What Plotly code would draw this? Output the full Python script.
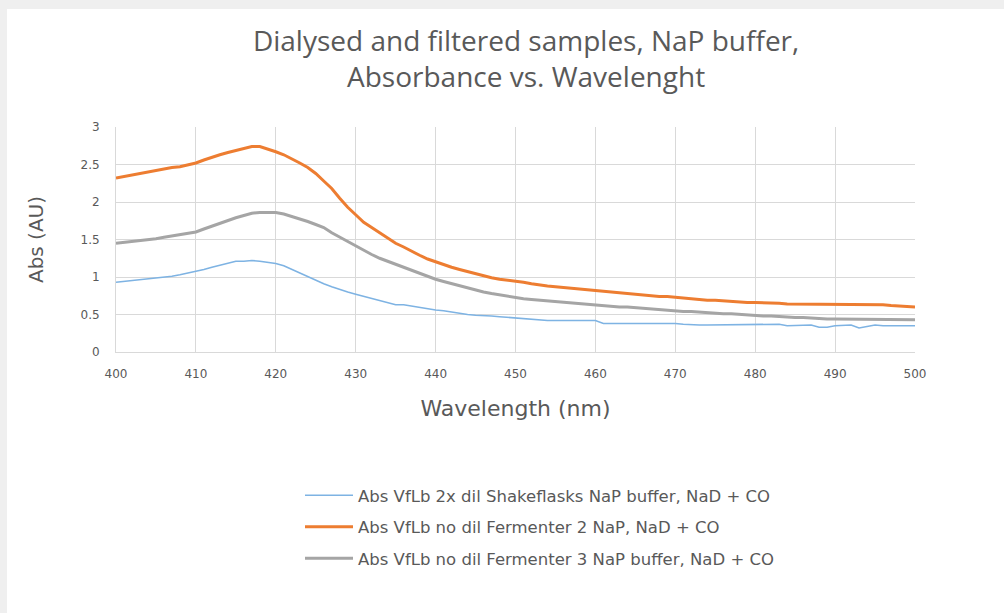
import plotly.graph_objects as go

# Wavelength grid (nm)
wavelength = list(range(400, 501))

# Abs VfLb 2x dil Shakeflasks NaP buffer, NaD + CO
abs_shakeflasks = [
    0.93, 0.94, 0.95, 0.97, 0.98, 0.99, 1.00, 1.01, 1.03, 1.05,
    1.07, 1.10, 1.13, 1.16, 1.19, 1.21, 1.21, 1.22, 1.21, 1.20,
    1.18, 1.15, 1.10, 1.05, 1.01, 0.96, 0.91, 0.87, 0.83, 0.80,
    0.77, 0.74, 0.71, 0.69, 0.66, 0.63, 0.63, 0.61, 0.59, 0.57,
    0.56, 0.55, 0.53, 0.52, 0.50, 0.49, 0.49, 0.48, 0.47, 0.46,
    0.45, 0.44, 0.43, 0.43, 0.42, 0.42, 0.42, 0.42, 0.42, 0.42,
    0.42, 0.38, 0.38, 0.38, 0.38, 0.39, 0.38, 0.38, 0.38, 0.38,
    0.38, 0.37, 0.36, 0.36, 0.36, 0.36, 0.36, 0.36, 0.36, 0.36,
    0.36, 0.36, 0.36, 0.37, 0.35, 0.35, 0.35, 0.36, 0.33, 0.33,
    0.35, 0.35, 0.36, 0.32, 0.34, 0.36, 0.35, 0.35, 0.35, 0.35,
    0.35,
]

# Abs VfLb no dil Fermenter 2 NaP, NaD + CO
abs_fermenter2 = [
    2.32, 2.34, 2.36, 2.38, 2.41, 2.42, 2.44, 2.46, 2.47, 2.49,
    2.52, 2.56, 2.60, 2.63, 2.66, 2.69, 2.72, 2.74, 2.74, 2.71,
    2.67, 2.63, 2.58, 2.52, 2.46, 2.38, 2.28, 2.18, 2.05, 1.93,
    1.83, 1.73, 1.66, 1.59, 1.52, 1.45, 1.40, 1.34, 1.29, 1.24,
    1.20, 1.17, 1.13, 1.10, 1.07, 1.04, 1.01, 0.99, 0.97, 0.96,
    0.95, 0.93, 0.91, 0.89, 0.88, 0.87, 0.86, 0.84, 0.83, 0.82,
    0.81, 0.80, 0.79, 0.78, 0.77, 0.76, 0.76, 0.75, 0.74, 0.74,
    0.73, 0.71, 0.70, 0.70, 0.69, 0.69, 0.68, 0.67, 0.67, 0.66,
    0.66, 0.66, 0.65, 0.65, 0.64, 0.64, 0.63, 0.63, 0.63, 0.63,
    0.63, 0.63, 0.63, 0.63, 0.63, 0.63, 0.63, 0.62, 0.61, 0.60,
    0.60,
]

# Abs VfLb no dil Fermenter 3 NaP buffer, NaD + CO
abs_fermenter3 = [
    1.45, 1.46, 1.47, 1.48, 1.49, 1.51, 1.53, 1.55, 1.56, 1.58,
    1.60, 1.64, 1.68, 1.72, 1.76, 1.79, 1.82, 1.85, 1.86, 1.86,
    1.86, 1.84, 1.81, 1.78, 1.74, 1.70, 1.66, 1.59, 1.53, 1.47,
    1.41, 1.36, 1.30, 1.25, 1.21, 1.16, 1.13, 1.09, 1.05, 1.01,
    0.97, 0.94, 0.91, 0.88, 0.85, 0.82, 0.80, 0.78, 0.76, 0.74,
    0.72, 0.71, 0.70, 0.69, 0.69, 0.68, 0.67, 0.66, 0.65, 0.64,
    0.63, 0.62, 0.61, 0.60, 0.60, 0.59, 0.58, 0.57, 0.56, 0.56,
    0.55, 0.54, 0.54, 0.53, 0.53, 0.52, 0.51, 0.51, 0.50, 0.50,
    0.49, 0.48, 0.48, 0.47, 0.47, 0.46, 0.46, 0.45, 0.45, 0.44,
    0.44, 0.44, 0.44, 0.44, 0.43, 0.43, 0.43, 0.43, 0.43, 0.43,
    0.43,
]

series_names = [
    "Abs VfLb 2x dil Shakeflasks NaP buffer, NaD + CO",
    "Abs VfLb no dil Fermenter 2 NaP, NaD + CO",
    "Abs VfLb no dil Fermenter 3 NaP buffer, NaD + CO",
]
series_values = [abs_shakeflasks, abs_fermenter2, abs_fermenter3]
series_colors = ["#7EB3E3", "#ED7D31", "#A5A5A5"]
series_widths = [1.6, 3, 3]

x_ticks = list(range(400, 501, 10))
y_ticks = [0, 0.5, 1, 1.5, 2, 2.5, 3]
y_tick_text = ["0", "0.5", "1", "1.5", "2", "2.5", "3"]

W, H = 1004, 613
ML, MR, MT, MB = 116, 89, 127, 261

fig = go.Figure()
for i, (name, vals, col, lw) in enumerate(zip(series_names, series_values, series_colors, series_widths)):
    fig.add_trace(go.Scatter(
        x=wavelength, y=vals, mode="lines", name=name,
        legendgroup=f"g{i}",
        line=dict(color=col, width=lw),
    ))

# light grey frame along the top and left edges of the page
pw = W - ML - MR
ph = H - MT - MB
def px_x(p):
    return (p - ML) / pw
def px_y(p):
    return 1 - (p - MT) / ph

shapes = [
    dict(type="rect", xref="paper", yref="paper",
         x0=px_x(0), x1=px_x(W), y0=px_y(9), y1=px_y(0),
         fillcolor="#EFEFEF", line=dict(width=0), layer="below"),
    dict(type="rect", xref="paper", yref="paper",
         x0=px_x(0), x1=px_x(7), y0=px_y(H), y1=px_y(0),
         fillcolor="#EFEFEF", line=dict(width=0), layer="below"),
]

fig.update_layout(
    width=W, height=H,
    margin=dict(l=ML, r=MR, t=MT, b=MB),
    paper_bgcolor="white", plot_bgcolor="white",
    shapes=shapes,
    title=dict(
        text="Dialysed and filtered samples, NaP buffer,<br>Absorbance vs. Wavelenght",
        x=0.524, xanchor="center", y=1 - 51 / H, yanchor="middle",
        font=dict(family="Open Sans, sans-serif", size=28, color="#595959"),
    ),
    xaxis=dict(
        range=[400, 500], tickvals=x_ticks,
        ticks="outside", ticklen=11, tickcolor="rgba(0,0,0,0)",
        showgrid=True, gridcolor="#D9D9D9", gridwidth=1,
        showline=True, linecolor="#D9D9D9", linewidth=1,
        zeroline=False, mirror=False,
        tickfont=dict(family="DejaVu Sans, sans-serif", size=12, color="#595959"),
        title=dict(text="Wavelength (nm)", standoff=20,
                   font=dict(family="DejaVu Sans, sans-serif", size=22, color="#595959")),
    ),
    yaxis=dict(
        range=[0, 3], tickvals=y_ticks, ticktext=y_tick_text,
        ticks="outside", ticklen=13, tickcolor="rgba(0,0,0,0)",
        showgrid=True, gridcolor="#D9D9D9", gridwidth=1,
        showline=True, linecolor="#D9D9D9", linewidth=1,
        zeroline=False,
        tickfont=dict(family="DejaVu Sans, sans-serif", size=12, color="#595959"),
        title=dict(text="Abs (AU)", standoff=31,
                   font=dict(family="DejaVu Sans, sans-serif", size=20, color="#595959")),
    ),
    legend=dict(
        orientation="v", x=px_x(300), xanchor="left",
        y=px_y(478), yanchor="top",
        font=dict(family="DejaVu Sans, sans-serif", size=16.5, color="#595959"),
        tracegroupgap=7, itemwidth=48,
        bgcolor="rgba(0,0,0,0)",
    ),
    showlegend=True,
)

fig.write_html("out.html")
